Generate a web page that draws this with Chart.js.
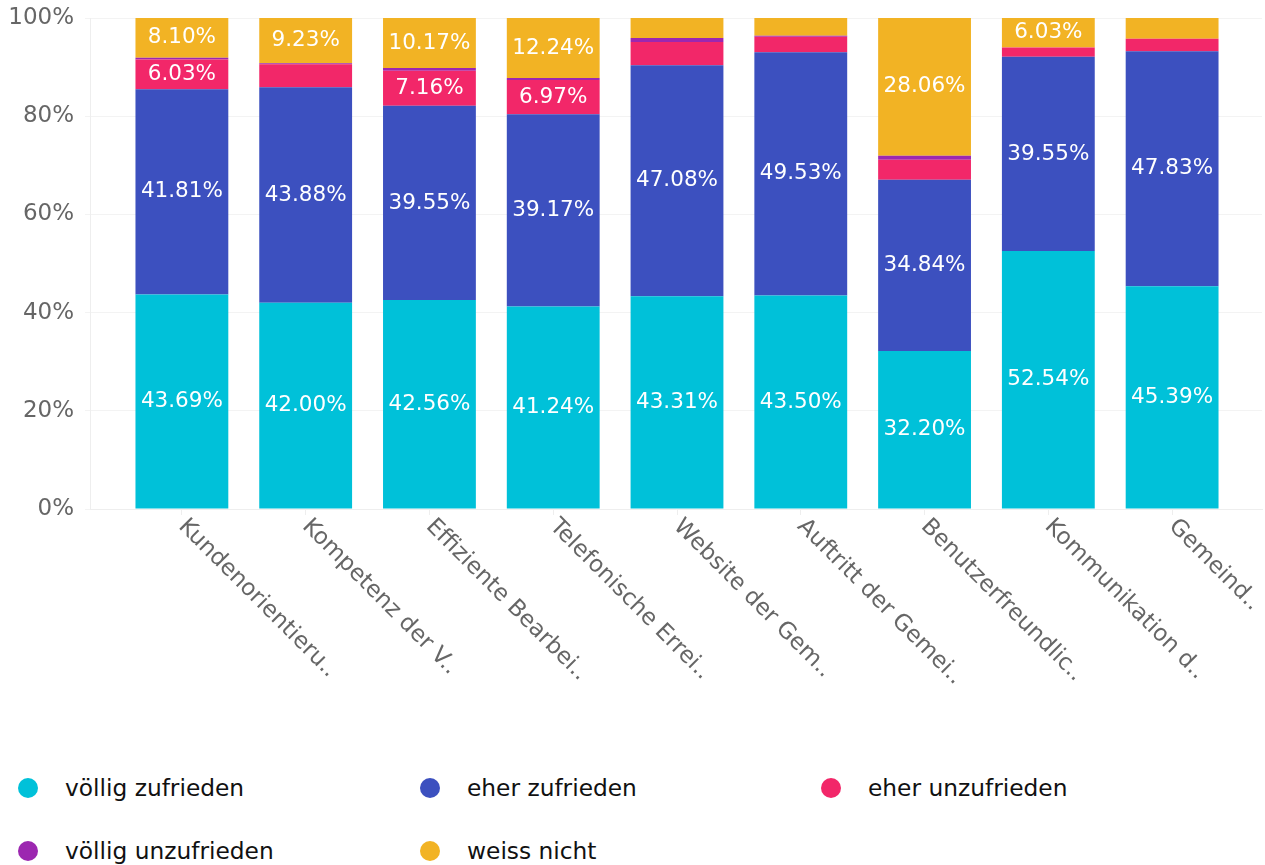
<!DOCTYPE html>
<html lang="de">
<head>
<meta charset="UTF-8">
<title>Zufriedenheit</title>
<script src="https://cdn.jsdelivr.net/npm/chart.js"></script>
<style>
    body { margin: 0; background: #fff; font-family: "DejaVu Sans", sans-serif; }
    #wrap { position: relative; width: 1265px; height: 865px; }
    #chartBox { position: absolute; left: 0; top: 0; width: 1265px; height: 740px; }
    #legend {
        position: absolute; left: 0; top: 756px; width: 1265px;
        display: grid; grid-template-columns: 402px 401px 402px; grid-auto-rows: 63px;
    }
    .item { display: flex; align-items: center; padding-left: 18px; font-size: 23.3px; color: #111; }
    .dot { width: 20px; height: 20px; border-radius: 50%; margin-right: 27px; flex: none; }
</style>
</head>
<body>
<div id="wrap">
    <div id="chartBox"><canvas id="chart"></canvas></div>
    <div id="legend"></div>
</div>
<script>
    const categories = ["Kundenorientieru..", "Kompetenz der V..", "Effiziente Bearbei..", "Telefonische Errei..",
        "Website der Gem..", "Auftritt der Gemei..", "Benutzerfreundlic..", "Kommunikation d..", "Gemeind.."];

    const voelligZufrieden   = [43.69, 42.00, 42.56, 41.24, 43.31, 43.50, 32.20, 52.54, 45.39];
    const eherZufrieden      = [41.81, 43.88, 39.55, 39.17, 47.08, 49.53, 34.84, 39.55, 47.83];
    const eherUnzufrieden    = [6.03, 4.69, 7.16, 6.97, 4.73, 3.15, 4.08, 1.88, 2.56];
    const voelligUnzufrieden = [0.37, 0.20, 0.56, 0.38, 0.81, 0.22, 0.82, 0, 0];
    const weissNicht         = [8.10, 9.23, 10.17, 12.24, 4.07, 3.60, 28.06, 6.03, 4.22];

    const yMax = 100;
    const yStep = 20;
    const LABEL_MIN = 5; // segments smaller than this get no value label

    const series = [
        { label: "völlig zufrieden", data: voelligZufrieden, color: "#00c1d9" },
        { label: "eher zufrieden", data: eherZufrieden, color: "#3c50bf" },
        { label: "eher unzufrieden", data: eherUnzufrieden, color: "#f22769" },
        { label: "völlig unzufrieden", data: voelligUnzufrieden, color: "#9c27b0" },
        { label: "weiss nicht", data: weissNicht, color: "#f2b324" }
    ];

    Chart.defaults.font.family = '"DejaVu Sans", sans-serif';

    // bars sit a bit inside the plot, like in the original
    const insetPlugin = {
        id: "inset",
        afterLayout(chart) {
            const x = chart.scales.x;
            x._startPixel = chart.chartArea.left + 30;
            x._endPixel = chart.chartArea.right - 28;
            x._length = x._endPixel - x._startPixel;
        }
    };

    const valueLabels = {
        id: "valueLabels",
        afterDatasetsDraw(chart) {
            const ctx = chart.ctx;
            ctx.save();
            ctx.font = '21.5px "DejaVu Sans"';
            ctx.fillStyle = "#fff";
            ctx.textAlign = "center";
            ctx.textBaseline = "middle";
            chart.data.datasets.forEach((ds, di) => {
                chart.getDatasetMeta(di).data.forEach((bar, i) => {
                    const v = ds.data[i];
                    if (v < LABEL_MIN) return;
                    ctx.fillText(v.toFixed(2) + "%", bar.x, (bar.y + bar.base) / 2);
                });
            });
            ctx.restore();
        }
    };

    // x labels slanted downwards to the right
    const slantedLabels = {
        id: "slantedLabels",
        afterDraw(chart) {
            const x = chart.scales.x;
            const ctx = chart.ctx;
            ctx.save();
            ctx.font = '23px "DejaVu Sans"';
            ctx.fillStyle = "#666";
            ctx.textAlign = "left";
            ctx.textBaseline = "middle";
            categories.forEach((lab, i) => {
                ctx.save();
                ctx.translate(x.getPixelForTick(i), x.top + 14);
                ctx.rotate(Math.PI / 4);
                ctx.fillText(lab, 0, 0);
                ctx.restore();
            });
            ctx.restore();
        }
    };

    new Chart(document.getElementById("chart"), {
        type: "bar",
        data: {
            labels: categories,
            datasets: series.map(s => ({
                label: s.label,
                data: s.data,
                backgroundColor: s.color,
                borderWidth: 0,
                categoryPercentage: 0.75,
                barPercentage: 1
            }))
        },
        options: {
            responsive: true,
            maintainAspectRatio: false,
            animation: false,
            layout: { padding: { top: 18, right: 3, bottom: 225, left: 0 } },
            plugins: {
                legend: { display: false },
                tooltip: { enabled: false }
            },
            scales: {
                x: {
                    stacked: true,
                    grid: { offset: false, drawOnChartArea: false, drawTicks: true, tickLength: 6, color: "#eeeeee" },
                    border: { color: "#eeeeee" },
                    ticks: { display: false }
                },
                y: {
                    stacked: true,
                    min: 0,
                    max: yMax,
                    afterFit(scale) {
                        scale.width = 90;
                        scale.paddingTop = 0;
                        scale.paddingBottom = 0;
                    },
                    grid: { color: "#f3f3f3", tickLength: 5 },
                    border: { color: "#eeeeee" },
                    ticks: {
                        stepSize: yStep,
                        padding: 11,
                        color: "#666",
                        font: { size: 23 },
                        callback: v => v + "%"
                    }
                }
            }
        },
        plugins: [insetPlugin, valueLabels, slantedLabels]
    });

    const legend = document.getElementById("legend");
    series.forEach(s => {
        const item = document.createElement("div");
        item.className = "item";
        item.innerHTML = '<span class="dot" style="background:' + s.color + '"></span>' + s.label;
        legend.appendChild(item);
    });
</script>
</body>
</html>
